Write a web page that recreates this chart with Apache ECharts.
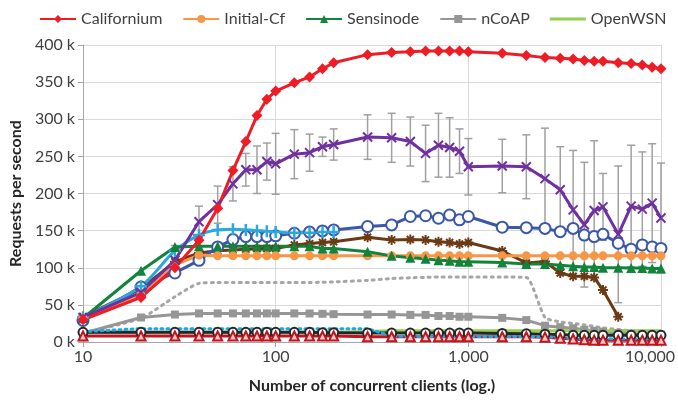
<!DOCTYPE html>
<html>
<head>
<meta charset="utf-8">
<script src="https://cdn.jsdelivr.net/npm/echarts@6/dist/echarts.min.js"></script>
<style>
  html, body { margin: 0; padding: 0; background: #fff; }
  #chart { width: 678px; height: 400px; }
</style>
</head>
<body>
<div id="chart"></div>
<script>
// number of concurrent clients (x, log scale)
const clients = [10, 20, 30, 40, 50, 60, 70, 80, 90, 100, 125, 150, 175, 200, 300, 400, 500, 600, 700, 800, 900, 1000,
  1500, 2000, 2500, 3000, 3500, 4000, 4500, 5000, 6000, 7000, 8000, 9000, 10000];

// requests per second, in thousands
const californium = [30, 60, 100, 137, 180, 231, 270, 305, 327, 338, 349, 357, 368, 376, 387, 390, 391, 392, 392, 392, 392, 391,
  389, 386, 383, 382, 381, 379, 378, 378, 376, 375, 373, 370, 368];
const initialCf = [32, 63, 104, 117, 116, 116, 116, 116, 116, 116, 116, 116, 116, 116, 116, 116, 116, 116, 116, 116, 116, 116,
  116, 116, 116, 116, 116, 116, 116, 116, 116, 116, 116, 116, 116];
const sensinode = [32, 96, 128, 129, 129, 129, 129, 129, 129, 129, 129, 129, 126, 126, 121.5, 116, 113.5, 112, 110, 109.5, 108, 108,
  107, 105, 105, 103.5, 102, 101, 101, 100, 100, 99.5, 99.5, 99, 99];
const ncoap = [12, 33, 37, 38.5, 38.5, 38.5, 38.5, 38.5, 38.5, 38.5, 38.5, 38.4, 38, 37.5, 37, 37, 36.5, 36.5, 35, 35, 34, 34,
  32.5, 29.5, 22, 20, 18.5, 16.5, 15, 14, 12, 11, 10.5, 10, 10];
const openwsn = [13, 13, 13, 13, 13, 13, 13, 13, 13, 13, 13, 13, 13, 13, 14, 15, 15, 15, 15, 15, 15, 15,
  15, 15, 15, 15, 15, 15, 15, 15, 15, 15, 15, 15, 15];
const purple = [33, 67, 110, 162, 185, 213, 232, 232, 243, 240, 253, 255, 263, 266, 276, 275, 270, 254, 265, 262, 257, 236,
  237, 236, 220, 205, 178, 158, 177, 182, 145, 183, 179, 187, 167];
const purpleErr = [0, 0, 20, 21, 25, 23, 22, 32, 25, 41, 33, 25, 13, 21, 30, 33, 33, 38, 43, 40, 30, 38,
  36, 43, 68, 58, 80, 84, 94, 45, 92, 82, 77, 80, 74];
const blueCircles = [29, 74, 93, 110, 128, 138, 142, 142, 142, 143, 146.5, 148, 149.6, 151, 155.5, 157.7, 169, 170, 166.7, 171, 164.5, 169,
  154.6, 154, 153, 148.6, 153, 144, 142, 145, 133, 125, 130.7, 128, 126];
const skyPlus = [33, 75, 123, 144, 151, 152, 151, 150, 149, 148, 147, 147, 148, 148, null, null, null, null, null, null, null, null,
  null, null, null, null, null, null, null, null, null, null, null, null, null];
const brown = [34, 72, 108, 120, 123, 124, 125, 125.5, 126, 126, 130.7, 132.5, 134, 135, 141, 137.5, 138, 137.5, 135, 134, 132, 134,
  122.6, 106.5, 108.5, 93, 88.5, 88.5, 87, 70, 34, null, null, null, null];
const grayDotted = [12, 32, 61, 79, 80, 80, 80, 80, 80, 80, 80, 80, 80.5, 81, 83, 85.5, 86.5, 87, 87.5, 87.5, 87.5, 87.5,
  87.5, 87, 33, 27, 25, 23, 21, 19, 17, 15, 14, 13.5, 13];
const blackCircles = [13, 13, 13, 13, 13, 13, 13, 13, 13, 13, 13, 13, 12.5, 12.5, 12, 12, 12, 12, 12, 12, 12, 12,
  11.5, 11, 10.5, 10, 9, 9, 9, 9, 9, 9, 9, 9, 9];
const redTriangles = [8, 8, 8, 8, 8, 8, 8, 8, 8, 8, 8, 8, 8, 8, 7, 7, 7, 7, 7, 7, 7, 7,
  7, 7, 6.5, 5, 4, 3, 2.5, 2.5, 2.5, 2.5, 2.5, 2.5, 2.5];
const skyDotted = [14, 18, 18, 18, 18, 18, 18, 18, 18, 18, 18, 18, 18, 18, 18, 8, 7.5, 7.5, 7.5, 7.5, 7.5, 7.5,
  7.5, 7.5, 7, 6, 4.5, 4.5, 4.5, 4.5, 4.5, 4.5, 4.5, 4.5, 4.5];

const legendNames = ['Californium', 'Initial-Cf', 'Sensinode', 'nCoAP', 'OpenWSN'];
const FONT = 'Lato';

const X_MARK = 'path://M0,0L10,10M10,0L0,10';
const PLUS_MARK = 'path://M5,0L5,10M0,5L10,5';
const STAR_MARK = 'path://M5,0L5,10M0,5L10,5M1.5,1.5L8.5,8.5M8.5,1.5L1.5,8.5';

function pairs(vals) {
  return clients.map((c, i) => [c, vals[i]]).filter(p => p[1] != null);
}

function lineSeries(name, vals, color, opts) {
  return Object.assign({
    name: name,
    type: 'line',
    data: pairs(vals),
    symbol: 'none',
    symbolSize: 8,
    clip: false,
    lineStyle: { color: color, width: 3 },
    itemStyle: { color: color },
    emphasis: { disabled: true }
  }, opts || {});
}

const chart = echarts.init(document.getElementById('chart'));

chart.setOption({
  animation: false,
  textStyle: { fontFamily: FONT },
  legend: {
    data: legendNames.map(n => n === 'OpenWSN' ? { name: n, icon: 'path://M0,0H36V3H0Z' } : n),
    top: 6,
    left: 34,
    itemWidth: 36,
    itemHeight: 10,
    itemGap: 20,
    textStyle: { fontFamily: FONT, fontSize: 16, color: '#404040' }
  },
  grid: { left: 83, right: 17, top: 45, bottom: 58 },
  xAxis: {
    type: 'log',
    logBase: 10,
    min: 10,
    max: 10000,
    name: 'Number of concurrent clients (log.)',
    nameLocation: 'middle',
    nameGap: 36,
    nameTextStyle: { fontFamily: FONT, fontSize: 16, fontWeight: 'bold', color: '#262626' },
    axisLine: { lineStyle: { color: '#A6A6A6', width: 1 } },
    axisTick: { show: true, length: 5, lineStyle: { color: '#A6A6A6' } },
    splitLine: { show: true, lineStyle: { color: '#D9D9D9', width: 1 } },
    axisLabel: {
      fontFamily: FONT, fontSize: 16, color: '#404040', margin: 7,
      formatter: v => v === 10000 ? '{m|10,000}' : v.toLocaleString('en-US'),
      rich: { m: { fontFamily: FONT, fontSize: 16, color: '#404040', padding: [0, 22, 0, 0] } }
    }
  },
  yAxis: {
    type: 'value',
    min: 0,
    max: 400,
    interval: 50,
    name: 'Requests per second',
    nameLocation: 'middle',
    nameGap: 36,
    nameRotate: 90,
    nameTextStyle: { fontFamily: FONT, fontSize: 16, fontWeight: 'bold', color: '#262626' },
    axisLine: { show: true, lineStyle: { color: '#A6A6A6', width: 1 } },
    axisTick: { show: true, length: 5, lineStyle: { color: '#A6A6A6' } },
    splitLine: { lineStyle: { color: '#D9D9D9', width: 1 } },
    axisLabel: { fontFamily: FONT, fontSize: 16, color: '#404040', margin: 8, formatter: v => v + ' k' }
  },
  series: [
    {
      name: 'errors',
      type: 'custom',
      z: 1,
      clip: false,
      data: clients.map((c, i) => [c, purple[i], purpleErr[i]]).filter(d => d[2] > 0),
      renderItem: function (params, api) {
        const x = api.value(0), y = api.value(1), e = api.value(2);
        const top = api.coord([x, y + e]);
        const bot = api.coord([x, y - e]);
        const st = { stroke: '#A0A0A0', lineWidth: 1.5 };
        return {
          type: 'group',
          children: [
            { type: 'line', shape: { x1: top[0], y1: top[1], x2: bot[0], y2: bot[1] }, style: st },
            { type: 'line', shape: { x1: top[0] - 4, y1: top[1], x2: top[0] + 4, y2: top[1] }, style: st },
            { type: 'line', shape: { x1: bot[0] - 4, y1: bot[1], x2: bot[0] + 4, y2: bot[1] }, style: st }
          ]
        };
      }
    },
    lineSeries('gray dotted', grayDotted, '#A6A6A6', { lineStyle: { color: '#A6A6A6', width: 3, type: [2, 5], cap: 'round' }, smooth: 0.2 }),
    lineSeries('nCoAP', ncoap, '#969696', { symbol: 'rect', symbolSize: 8 }),
    lineSeries('OpenWSN', openwsn, '#92D050'),
    lineSeries('black circles', blackCircles, '#262626', {
      symbol: 'circle', symbolSize: 9,
      itemStyle: { color: '#fff', borderColor: '#262626', borderWidth: 2 }
    }),
    lineSeries('red triangles', redTriangles, '#C0141E', {
      symbol: 'triangle', symbolSize: 9,
      itemStyle: { color: '#F8C8C8', borderColor: '#C0141E', borderWidth: 2 }
    }),
    lineSeries('sky dotted', skyDotted, '#1FA8E3', { lineStyle: { color: '#1FA8E3', width: 3, type: [2, 4], cap: 'round' } }),
    lineSeries('brown', brown, '#6B3A15', {
      symbol: STAR_MARK, symbolSize: 10,
      itemStyle: { color: '#6B3A15', borderColor: '#6B3A15', borderWidth: 2 }
    }),
    lineSeries('blue circles', blueCircles, '#3A57A8', {
      symbol: 'circle', symbolSize: 11,
      itemStyle: { color: '#fff', borderColor: '#3A57A8', borderWidth: 2 }
    }),
    lineSeries('sky plus', skyPlus, '#2AA9E0', {
      symbol: PLUS_MARK, symbolSize: 12, smooth: 0.3,
      itemStyle: { color: '#2AA9E0', borderColor: '#2AA9E0', borderWidth: 2.5 }
    }),
    lineSeries('Initial-Cf', initialCf, '#F79646', { symbol: 'circle', symbolSize: 9 }),
    lineSeries('Sensinode', sensinode, '#12833B', { symbol: 'triangle', symbolSize: 10 }),
    lineSeries('purple', purple, '#7030A0', {
      symbol: X_MARK, symbolSize: 9,
      itemStyle: { color: '#7030A0', borderColor: '#7030A0', borderWidth: 2 }
    }),
    lineSeries('Californium', californium, '#EE1C25', { symbol: 'diamond', symbolSize: 11 })
  ]
});
</script>
</body>
</html>
